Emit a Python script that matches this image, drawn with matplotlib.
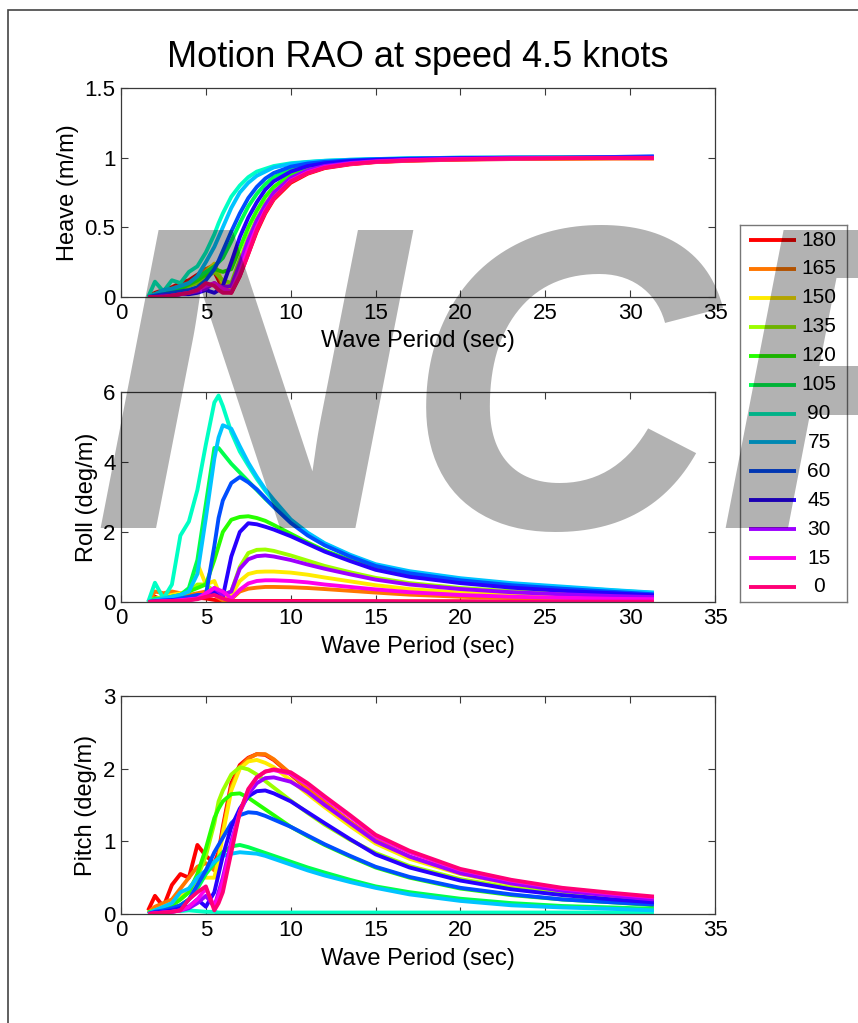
import matplotlib
matplotlib.use("Agg")
import matplotlib.pyplot as plt
import matplotlib.colors as mcolors
from matplotlib import font_manager as fm
from matplotlib.patches import Rectangle

plt.rcParams['font.family'] = ['Liberation Sans', 'DejaVu Sans']

# Wave periods (s) at which the RAOs are tabulated
period = [1.6, 2.0, 2.5, 3.0, 3.5, 4.0, 4.5, 5.0, 5.5, 5.75, 6.0, 6.5, 7.0, 7.5,
          8.0, 8.5, 9.0, 10.0, 11.0, 12.0, 13.5, 15.0, 17.0, 20.0, 23.0, 26.0,
          29.0, 31.4]

# Wave headings (deg), in plotting / legend order
headings = [180, 165, 150, 135, 120, 105, 90, 75, 60, 45, 30, 15, 0]

# Heave RAO (m/m), one row per heading
heave_rao = [
    [0.00, 0.03, 0.05, 0.07, 0.10, 0.12, 0.16, 0.20, 0.18, 0.12, 0.06, 0.03, 0.15, 0.31, 0.47, 0.60, 0.70, 0.82, 0.885, 0.925, 0.952, 0.968, 0.978, 0.986, 0.990, 0.993, 0.995, 0.995],
    [0.00, 0.02, 0.04, 0.06, 0.08, 0.10, 0.14, 0.20, 0.23, 0.15, 0.08, 0.04, 0.17, 0.33, 0.49, 0.61, 0.71, 0.83, 0.890, 0.930, 0.955, 0.970, 0.980, 0.988, 0.992, 0.994, 0.995, 0.995],
    [0.00, 0.02, 0.03, 0.05, 0.06, 0.08, 0.12, 0.18, 0.24, 0.17, 0.10, 0.05, 0.19, 0.36, 0.51, 0.63, 0.72, 0.84, 0.900, 0.935, 0.958, 0.972, 0.982, 0.990, 0.994, 0.996, 0.997, 0.997],
    [0.00, 0.01, 0.03, 0.04, 0.05, 0.08, 0.10, 0.14, 0.18, 0.15, 0.12, 0.10, 0.27, 0.43, 0.56, 0.67, 0.75, 0.86, 0.915, 0.945, 0.965, 0.977, 0.986, 0.993, 0.997, 0.999, 1.000, 1.000],
    [0.00, 0.02, 0.03, 0.05, 0.06, 0.09, 0.12, 0.16, 0.20, 0.19, 0.18, 0.20, 0.35, 0.50, 0.62, 0.72, 0.79, 0.88, 0.925, 0.950, 0.970, 0.980, 0.988, 0.994, 0.998, 1.000, 1.000, 1.000],
    [0.00, 0.02, 0.04, 0.05, 0.07, 0.10, 0.14, 0.18, 0.22, 0.25, 0.28, 0.40, 0.53, 0.65, 0.74, 0.81, 0.86, 0.92, 0.950, 0.965, 0.978, 0.986, 0.992, 0.997, 1.000, 1.000, 1.000, 1.000],
    [0.00, 0.11, 0.04, 0.12, 0.10, 0.18, 0.22, 0.32, 0.45, 0.53, 0.60, 0.72, 0.80, 0.86, 0.90, 0.92, 0.94, 0.96, 0.970, 0.978, 0.985, 0.990, 0.995, 1.000, 1.000, 1.000, 1.000, 1.000],
    [0.00, 0.02, 0.05, 0.06, 0.08, 0.10, 0.15, 0.25, 0.36, 0.43, 0.50, 0.64, 0.75, 0.82, 0.87, 0.90, 0.93, 0.955, 0.968, 0.977, 0.985, 0.990, 0.995, 1.000, 1.000, 1.000, 1.000, 1.000],
    [0.00, 0.01, 0.02, 0.03, 0.04, 0.05, 0.07, 0.12, 0.20, 0.26, 0.33, 0.47, 0.60, 0.71, 0.79, 0.85, 0.89, 0.935, 0.958, 0.970, 0.981, 0.988, 0.993, 0.998, 1.000, 1.000, 1.005, 1.010],
    [0.00, 0.00, 0.01, 0.01, 0.02, 0.02, 0.03, 0.05, 0.03, 0.05, 0.08, 0.25, 0.43, 0.57, 0.68, 0.77, 0.83, 0.90, 0.940, 0.960, 0.975, 0.984, 0.990, 0.996, 0.999, 1.000, 1.000, 1.000],
    [0.00, 0.00, 0.01, 0.01, 0.02, 0.03, 0.04, 0.06, 0.10, 0.08, 0.07, 0.08, 0.24, 0.41, 0.55, 0.66, 0.75, 0.855, 0.910, 0.940, 0.962, 0.975, 0.985, 0.992, 0.996, 0.998, 1.000, 1.000],
    [0.00, 0.00, 0.00, 0.01, 0.02, 0.03, 0.05, 0.08, 0.10, 0.08, 0.06, 0.04, 0.18, 0.35, 0.50, 0.62, 0.71, 0.835, 0.895, 0.932, 0.957, 0.971, 0.982, 0.990, 0.994, 0.997, 0.998, 0.998],
    [0.00, 0.00, 0.00, 0.01, 0.02, 0.03, 0.05, 0.10, 0.08, 0.05, 0.03, 0.03, 0.15, 0.31, 0.48, 0.61, 0.71, 0.83, 0.890, 0.928, 0.955, 0.970, 0.980, 0.988, 0.993, 0.996, 0.998, 0.998],
]

# Roll RAO (deg/m), one row per heading
roll_rao = [
    [0.00, 0.15, 0.05, 0.10, 0.08, 0.10, 0.12, 0.10, 0.06, 0.04, 0.03, 0.03, 0.03, 0.03, 0.03, 0.03, 0.03, 0.03, 0.03, 0.02, 0.02, 0.02, 0.02, 0.02, 0.01, 0.01, 0.01, 0.01],
    [0.00, 0.30, 0.25, 0.30, 0.25, 0.20, 0.25, 0.30, 0.20, 0.12, 0.05, 0.08, 0.30, 0.38, 0.41, 0.43, 0.43, 0.42, 0.40, 0.37, 0.32, 0.27, 0.21, 0.15, 0.11, 0.09, 0.07, 0.06],
    [0.00, 0.10, 0.15, 0.20, 0.25, 0.30, 1.10, 0.50, 0.60, 0.30, 0.10, 0.20, 0.60, 0.80, 0.86, 0.87, 0.87, 0.84, 0.78, 0.70, 0.59, 0.48, 0.37, 0.27, 0.20, 0.16, 0.12, 0.10],
    [0.00, 0.05, 0.10, 0.15, 0.20, 0.30, 0.50, 0.50, 0.30, 0.25, 0.20, 0.30, 1.00, 1.40, 1.49, 1.50, 1.46, 1.33, 1.18, 1.03, 0.85, 0.69, 0.54, 0.40, 0.31, 0.24, 0.19, 0.15],
    [0.00, 0.05, 0.10, 0.15, 0.20, 0.30, 0.40, 0.50, 1.20, 1.60, 2.00, 2.35, 2.43, 2.45, 2.40, 2.32, 2.20, 1.95, 1.70, 1.47, 1.20, 0.95, 0.75, 0.56, 0.44, 0.35, 0.28, 0.22],
    [0.00, 0.10, 0.10, 0.15, 0.20, 0.40, 1.20, 2.80, 4.40, 4.40, 4.25, 3.95, 3.70, 3.45, 3.20, 2.95, 2.72, 2.30, 1.95, 1.66, 1.32, 1.05, 0.84, 0.64, 0.50, 0.40, 0.32, 0.25],
    [0.00, 0.55, 0.10, 0.50, 1.90, 2.30, 3.20, 4.50, 5.70, 5.90, 5.60, 4.85, 4.30, 3.90, 3.52, 3.18, 2.88, 2.33, 1.96, 1.66, 1.33, 1.06, 0.86, 0.66, 0.52, 0.42, 0.33, 0.26],
    [0.00, 0.05, 0.10, 0.15, 0.20, 0.30, 0.80, 2.40, 4.10, 4.70, 5.05, 4.95, 4.45, 3.98, 3.58, 3.22, 2.92, 2.36, 1.98, 1.68, 1.35, 1.08, 0.88, 0.68, 0.54, 0.44, 0.34, 0.27],
    [0.00, 0.02, 0.05, 0.05, 0.10, 0.15, 0.20, 0.20, 1.60, 2.40, 2.90, 3.40, 3.57, 3.42, 3.22, 2.97, 2.72, 2.26, 1.90, 1.62, 1.30, 1.03, 0.82, 0.62, 0.48, 0.38, 0.29, 0.22],
    [0.00, 0.02, 0.03, 0.05, 0.05, 0.08, 0.10, 0.20, 0.30, 0.25, 0.15, 1.30, 2.00, 2.25, 2.22, 2.15, 2.07, 1.88, 1.66, 1.44, 1.17, 0.92, 0.72, 0.54, 0.41, 0.32, 0.25, 0.19],
    [0.00, 0.00, 0.02, 0.03, 0.05, 0.05, 0.10, 0.20, 0.40, 0.30, 0.20, 0.30, 0.95, 1.22, 1.31, 1.33, 1.30, 1.20, 1.07, 0.95, 0.79, 0.64, 0.50, 0.37, 0.28, 0.22, 0.17, 0.14],
    [0.00, 0.00, 0.02, 0.03, 0.05, 0.08, 0.10, 0.25, 0.40, 0.35, 0.30, 0.10, 0.35, 0.53, 0.60, 0.62, 0.62, 0.60, 0.56, 0.50, 0.43, 0.36, 0.28, 0.20, 0.15, 0.12, 0.09, 0.08],
    [0.00, 0.02, 0.02, 0.03, 0.03, 0.05, 0.08, 0.15, 0.20, 0.15, 0.10, 0.03, 0.02, 0.02, 0.02, 0.02, 0.02, 0.02, 0.02, 0.02, 0.02, 0.02, 0.01, 0.01, 0.01, 0.01, 0.01, 0.01],
]

# Pitch RAO (deg/m), one row per heading
pitch_rao = [
    [0.05, 0.25, 0.10, 0.40, 0.55, 0.50, 0.95, 0.80, 0.70, 0.85, 1.20, 1.80, 2.05, 2.15, 2.20, 2.19, 2.12, 1.92, 1.72, 1.53, 1.26, 1.01, 0.78, 0.56, 0.42, 0.32, 0.25, 0.21],
    [0.02, 0.10, 0.15, 0.20, 0.35, 0.50, 0.65, 0.70, 0.60, 0.80, 1.15, 1.75, 2.02, 2.14, 2.20, 2.20, 2.13, 1.93, 1.73, 1.54, 1.27, 1.02, 0.79, 0.57, 0.43, 0.33, 0.26, 0.21],
    [0.02, 0.05, 0.10, 0.15, 0.25, 0.35, 0.50, 0.50, 0.50, 0.75, 1.10, 1.70, 2.00, 2.10, 2.12, 2.08, 2.02, 1.84, 1.65, 1.47, 1.21, 0.97, 0.76, 0.55, 0.41, 0.31, 0.25, 0.20],
    [0.02, 0.05, 0.08, 0.12, 0.20, 0.30, 0.50, 0.80, 1.25, 1.55, 1.70, 1.92, 2.02, 1.99, 1.92, 1.83, 1.74, 1.56, 1.39, 1.23, 1.02, 0.84, 0.66, 0.48, 0.36, 0.28, 0.22, 0.18],
    [0.02, 0.05, 0.08, 0.12, 0.20, 0.30, 0.55, 0.90, 1.32, 1.45, 1.55, 1.65, 1.66, 1.60, 1.52, 1.44, 1.36, 1.20, 1.07, 0.95, 0.79, 0.64, 0.50, 0.35, 0.26, 0.20, 0.16, 0.12],
    [0.02, 0.03, 0.05, 0.08, 0.12, 0.20, 0.35, 0.55, 0.70, 0.78, 0.85, 0.93, 0.95, 0.92, 0.88, 0.84, 0.80, 0.72, 0.64, 0.57, 0.47, 0.38, 0.30, 0.21, 0.15, 0.11, 0.09, 0.07],
    [0.00, 0.05, 0.03, 0.05, 0.04, 0.05, 0.04, 0.03, 0.03, 0.02, 0.02, 0.02, 0.02, 0.02, 0.02, 0.02, 0.02, 0.02, 0.02, 0.02, 0.02, 0.02, 0.02, 0.02, 0.02, 0.02, 0.02, 0.02],
    [0.00, 0.05, 0.10, 0.15, 0.30, 0.35, 0.50, 0.60, 0.72, 0.76, 0.80, 0.83, 0.85, 0.84, 0.83, 0.80, 0.76, 0.68, 0.60, 0.53, 0.44, 0.36, 0.27, 0.18, 0.12, 0.09, 0.07, 0.05],
    [0.00, 0.03, 0.05, 0.08, 0.12, 0.20, 0.40, 0.60, 0.85, 0.95, 1.05, 1.25, 1.36, 1.40, 1.39, 1.35, 1.30, 1.20, 1.08, 0.96, 0.80, 0.65, 0.51, 0.36, 0.27, 0.20, 0.16, 0.13],
    [0.00, 0.02, 0.03, 0.05, 0.08, 0.10, 0.20, 0.10, 0.30, 0.55, 0.80, 1.20, 1.45, 1.62, 1.69, 1.70, 1.66, 1.55, 1.40, 1.25, 1.03, 0.82, 0.64, 0.46, 0.34, 0.26, 0.20, 0.16],
    [0.00, 0.01, 0.02, 0.03, 0.05, 0.08, 0.15, 0.25, 0.10, 0.30, 0.50, 1.00, 1.40, 1.65, 1.80, 1.87, 1.88, 1.82, 1.68, 1.50, 1.25, 1.00, 0.79, 0.56, 0.42, 0.32, 0.25, 0.20],
    [0.00, 0.01, 0.02, 0.03, 0.05, 0.10, 0.20, 0.35, 0.10, 0.25, 0.45, 0.95, 1.40, 1.70, 1.88, 1.96, 1.98, 1.93, 1.78, 1.60, 1.34, 1.07, 0.85, 0.61, 0.46, 0.35, 0.28, 0.23],
    [0.00, 0.01, 0.02, 0.03, 0.05, 0.20, 0.30, 0.38, 0.05, 0.15, 0.30, 0.85, 1.40, 1.72, 1.88, 1.96, 1.99, 1.95, 1.80, 1.62, 1.36, 1.09, 0.87, 0.62, 0.47, 0.36, 0.29, 0.24],
]

x_ticks = [0, 5, 10, 15, 20, 25, 30, 35]
panels = [
    ("Heave (m/m)", heave_rao, 1.5, [0, 0.5, 1, 1.5], ["0", "0.5", "1", "1.5"]),
    ("Roll (deg/m)", roll_rao, 6, [0, 2, 4, 6], ["0", "2", "4", "6"]),
    ("Pitch (deg/m)", pitch_rao, 3, [0, 1, 2, 3], ["0", "1", "2", "3"]),
]

# one hue per heading, evenly spaced round the colour wheel
n = len(headings)
line_colors = [mcolors.hsv_to_rgb((i / n, 1.0, 1.0)) for i in range(n)]


def bold_italic_family(candidates):
    """First family in candidates that ships a bold italic/oblique face."""
    for name in candidates:
        for entry in fm.fontManager.ttflist:
            if entry.name != name or entry.style not in ('italic', 'oblique'):
                continue
            w = entry.weight
            if isinstance(w, str):
                w = fm.weight_dict.get(w, 400)
            if w >= 600:
                return name
    return 'DejaVu Sans'


wm_family = bold_italic_family(['Liberation Sans', 'Roboto', 'Open Sans', 'Lato',
                                'Noto Sans', 'Inter', 'DejaVu Sans'])

W, H = 858, 1023
fig = plt.figure(figsize=(W / 100, H / 100), dpi=100)
fig.patch.set_facecolor('white')


def frac_rect(left, top, right, bottom):
    return [left / W, 1 - bottom / H, (right - left) / W, (bottom - top) / H]


axes_boxes = [(121, 88, 715, 297), (121, 392, 715, 602), (121, 696, 715, 914)]
frame_col = '#3a3a3a'

for (ylabel, rao, ymax, yt, ytl), box in zip(panels, axes_boxes):
    ax = fig.add_axes(frac_rect(*box))
    for row, col in zip(rao, line_colors):
        ax.plot(period, row, color=col, lw=2.8, solid_capstyle='butt')
    ax.set_xlim(0, 35)
    ax.set_ylim(0, ymax)
    ax.set_xticks(x_ticks)
    ax.set_xticklabels([str(t) for t in x_ticks])
    ax.set_yticks(yt)
    ax.set_yticklabels(ytl)
    ax.tick_params(direction='in', top=True, right=True, length=5, width=0.8,
                   colors=frame_col, labelcolor='black', labelsize=16, pad=4)
    for s in ax.spines.values():
        s.set_color(frame_col)
        s.set_linewidth(0.9)
    ax.set_xlabel("Wave Period (sec)", fontsize=17, labelpad=5)
    ax.set_ylabel(ylabel, fontsize=17, labelpad=4)
    if box is axes_boxes[0]:
        ax.set_title("Motion RAO at speed 4.5 knots", fontsize=26, pad=15)

# legend box, one entry per heading
lax = fig.add_axes(frac_rect(740, 225, 847, 602))
lax.set_xlim(0, 1)
lax.set_ylim(n - 1 + 0.52, -0.52)
lax.set_xticks([])
lax.set_yticks([])
for s in lax.spines.values():
    s.set_color('#777777')
    s.set_linewidth(1.0)
for i, (hd, col) in enumerate(zip(headings, line_colors)):
    lax.plot([0.085, 0.525], [i, i], color=col, lw=2.8, solid_capstyle='butt')
    lax.text(0.74, i, str(hd), ha='center', va='center', fontsize=15)

# outer frame of the figure
fig.add_artist(Rectangle((8 / W, -0.2), 1.5, 1 - 10 / H + 0.2,
                         transform=fig.transFigure, fill=False,
                         edgecolor='#444444', lw=1.2))

# watermark
fig.text(92 / W, 1 - 528 / H, "NCR", fontsize=312, fontweight='bold',
         fontstyle='italic', family=wm_family, color='black', alpha=0.30,
         ha='left', va='baseline', zorder=20)

fig.savefig("out.png", dpi=100)
